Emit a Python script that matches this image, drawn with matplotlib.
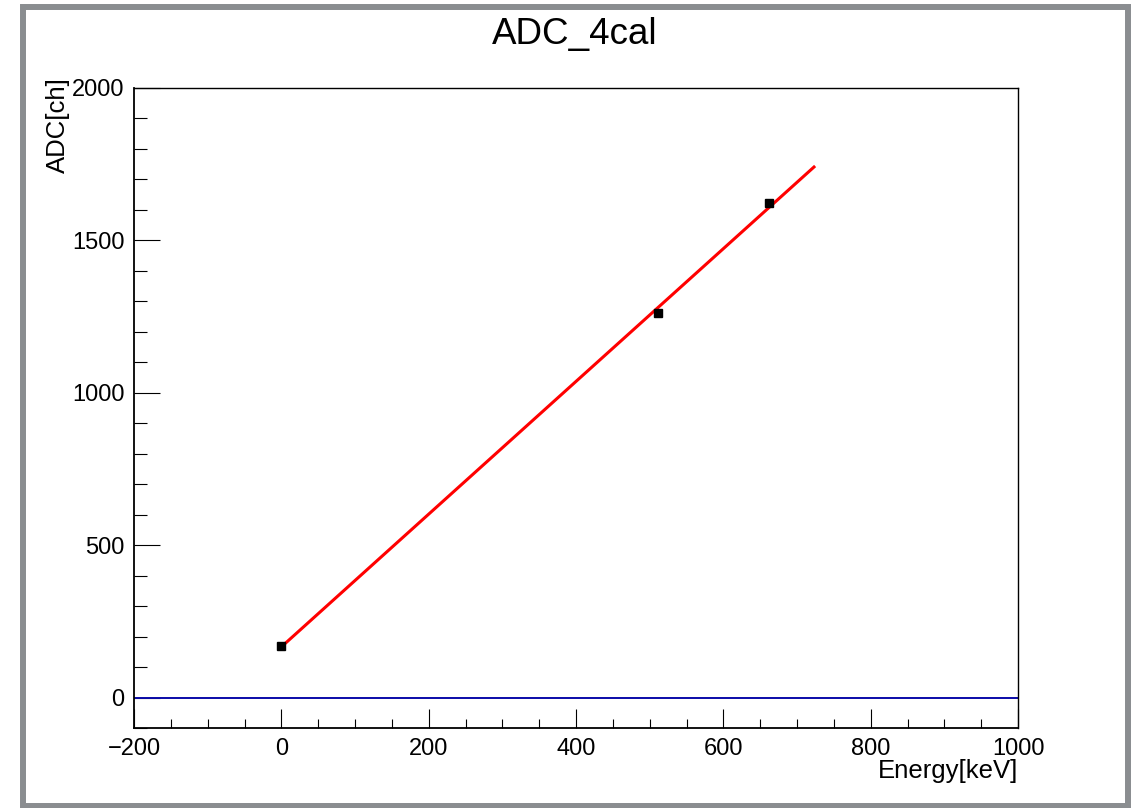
import numpy as np
import matplotlib
matplotlib.use("Agg")
import matplotlib.pyplot as plt
from matplotlib.patches import Rectangle
from matplotlib.ticker import MultipleLocator

# Calibration points: gamma energy vs. measured ADC channel
energy_kev = [0, 511, 662]
adc_ch = [170, 1262, 1621]

# Range of the linear calibration fit
fit_range = [0, 723]

title = "ADC_4cal"
xlabel = "Energy[keV]"
ylabel = "ADC[ch]"

plt.rcParams["font.family"] = ["Liberation Sans", "DejaVu Sans"]

fig = plt.figure(figsize=(11.35, 8.08), dpi=100)
fig.patch.set_facecolor("white")

# Grey canvas border
fig.patches.append(Rectangle((0.0203, 0.0030), 0.9735, 0.9883,
                             transform=fig.transFigure, fill=False,
                             edgecolor="#8a8d90", linewidth=4.3, zorder=0))

ax = fig.add_axes([0.11806, 0.0990, 0.7789, 0.7921])
ax.set_xlim(-200, 1000)
ax.set_ylim(-100, 2000)

# Zero baseline
ax.axhline(0, color="#0a0aa8", linewidth=1.4, zorder=2)

# Linear fit through the calibration points
slope, intercept = np.polyfit(energy_kev, adc_ch, 1)
xf = np.array(fit_range, dtype=float)
ax.plot(xf, slope * xf + intercept, color="red", linewidth=2.2, zorder=3)

ax.plot(energy_kev, adc_ch, linestyle="none", marker="s", markersize=6,
        color="black", zorder=4)

ax.xaxis.set_major_locator(MultipleLocator(200))
ax.xaxis.set_minor_locator(MultipleLocator(50))
ax.yaxis.set_major_locator(MultipleLocator(500))
ax.yaxis.set_minor_locator(MultipleLocator(100))

ax.tick_params(axis="x", which="major", direction="in", length=13.7, width=0.8,
               labelsize=17, pad=7, top=False)
ax.tick_params(axis="x", which="minor", direction="in", length=6.5, width=0.8,
               top=False)
ax.tick_params(axis="y", which="major", direction="in", length=18.7, width=0.8,
               labelsize=17, pad=7, right=False)
ax.tick_params(axis="y", which="minor", direction="in", length=9.4, width=0.8,
               right=False)

for side in ["left", "bottom"]:
    ax.spines[side].set_linewidth(1.3)
for side in ["top", "right"]:
    ax.spines[side].set_linewidth(1.0)

fig.text(0.5066, 0.9567, title, ha="center", va="center", fontsize=26.5)
fig.text(0.8969, 0.0455, xlabel, ha="right", va="center", fontsize=18.5)
fig.text(0.0511, 0.9050, ylabel, ha="center", va="top", rotation=90,
         fontsize=18.5)

fig.savefig("out.png", dpi=100)
